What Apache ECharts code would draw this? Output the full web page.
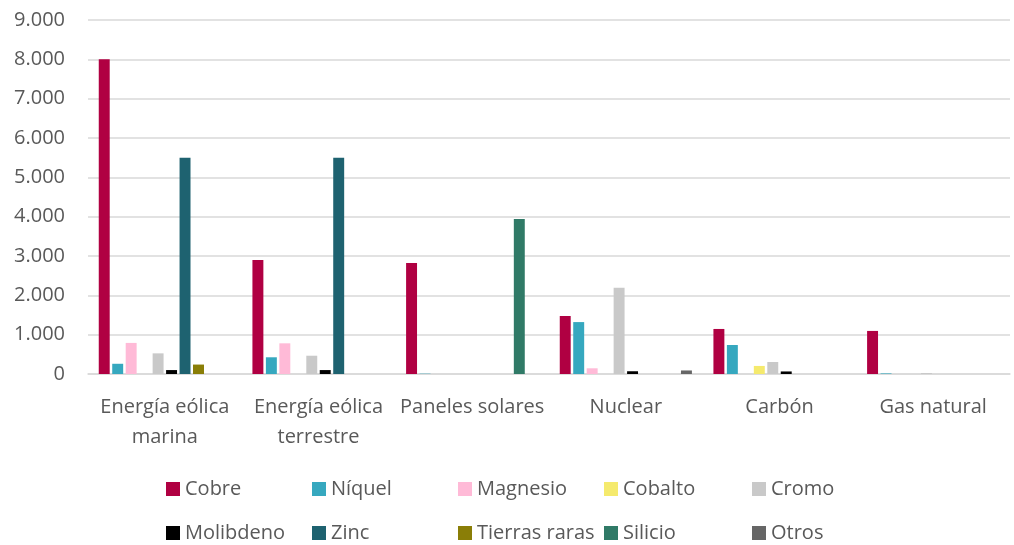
<!DOCTYPE html>
<html>
<head>
<meta charset="utf-8">
<script src="https://cdn.jsdelivr.net/npm/echarts@6/dist/echarts.min.js"></script>
<style>html,body{margin:0;padding:0;background:#fff;}#c{width:1014px;height:545px;}</style>
</head>
<body>
<div id="c"></div>
<script>
const categories = ['Energía eólica\nmarina', 'Energía eólica\nterrestre', 'Paneles solares', 'Nuclear', 'Carbón', 'Gas natural'];
const cobre      = [8000, 2900, 2820, 1475, 1145, 1095];
const niquel     = [260, 425, 8, 1320, 737, 15];
const magnesio   = [790, 780, 0, 145, 0, 0];
const cobalto    = [0, 0, 0, 0, 205, 0];
const cromo      = [525, 465, 0, 2190, 305, 25];
const molibdeno  = [100, 100, 0, 70, 65, 0];
const zinc       = [5500, 5500, 0, 0, 0, 0];
const tierras    = [240, 0, 0, 0, 0, 0];
const silicio    = [0, 0, 3940, 0, 0, 0];
const otros      = [0, 0, 0, 90, 0, 0];
const seriesNames = ['Cobre', 'Níquel', 'Magnesio', 'Cobalto', 'Cromo', 'Molibdeno', 'Zinc', 'Tierras raras', 'Silicio', 'Otros'];
const seriesData = [cobre, niquel, magnesio, cobalto, cromo, molibdeno, zinc, tierras, silicio, otros];
const colors = ['#B00042', '#36A8BF', '#FFBAD7', '#F5EA6D', '#C9C9C9', '#000000', '#1E6270', '#8A7E07', '#307A67', '#666666'];
const yTicks = { min: 0, max: 9000, interval: 1000 };

const FONT = '"Open Sans", sans-serif';
const TXT = '#595959';
const legendPos = [
  [166, 477], [312, 477], [458, 477], [604, 477], [752, 477],
  [166, 521], [312, 521], [458, 521], [604, 521], [752, 521]
];

const chart = echarts.init(document.getElementById('c'), null, { renderer: 'canvas' });
chart.setOption({
  animation: false,
  color: colors,
  textStyle: { fontFamily: FONT },
  grid: { left: 88, right: 4, top: 20, bottom: 171, containLabel: false },
  legend: seriesNames.map((n, i) => ({
    data: [n],
    left: legendPos[i][0],
    top: legendPos[i][1],
    icon: 'rect',
    itemWidth: 14,
    itemHeight: 14,
    itemGap: 0,
    padding: 0,
    textStyle: { color: TXT, fontSize: 20, lineHeight: 24, fontFamily: FONT }
  })),
  xAxis: {
    type: 'category',
    data: categories,
    axisLine: { lineStyle: { color: '#D9D9D9', width: 1.5 } },
    axisTick: { show: false },
    axisLabel: { color: TXT, fontSize: 20, fontFamily: FONT, margin: 18, lineHeight: 30, interval: 0 }
  },
  yAxis: {
    type: 'value',
    min: yTicks.min, max: yTicks.max, interval: yTicks.interval,
    axisLine: { show: false },
    axisTick: { show: false },
    splitLine: { lineStyle: { color: '#D9D9D9', width: 1.5 } },
    axisLabel: {
      color: TXT, fontSize: 20, fontFamily: FONT, margin: 23,
      formatter: v => v === 0 ? '0' : (v / 1000) + '.000'
    }
  },
  series: seriesNames.map((n, i) => ({
    name: n,
    type: 'bar',
    data: seriesData[i],
    barGap: '23%',
    barCategoryGap: '14%',
    itemStyle: { color: colors[i] }
  }))
});
</script>
</body>
</html>
